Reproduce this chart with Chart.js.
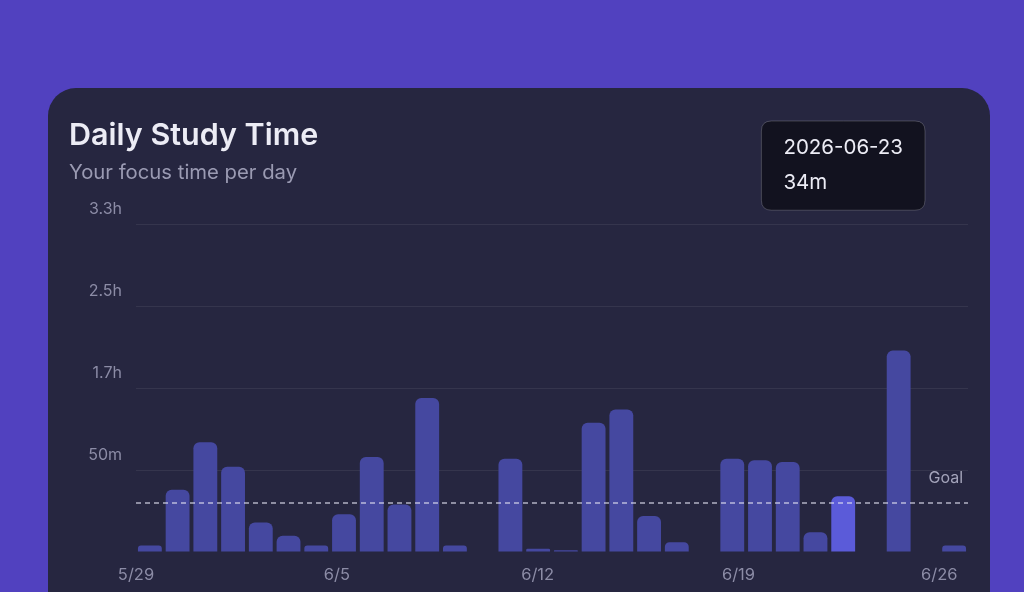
<!DOCTYPE html>
<html>
<head>
<meta charset="utf-8">
<script src="https://cdn.jsdelivr.net/npm/chart.js@4.4.1/dist/chart.umd.min.js"></script>
<style>
  html, body { margin: 0; padding: 0; }
  body {
    width: 1024px;
    height: 592px;
    overflow: hidden;
    background: #5141bf;
    font-family: Inter, "Noto Sans", sans-serif;
    position: relative;
  }
  .card {
    position: absolute;
    left: 48px;
    top: 88px;
    width: 942px;
    height: 540px;
    border-radius: 28px;
    background: #262640;
  }
  #study-chart { position: absolute; left: 0; top: 0; }
</style>
</head>
<body>
<div class="card">
  <canvas id="study-chart" width="942" height="504"></canvas>
</div>
<script>
const days = [
  "2026-05-29", "2026-05-30", "2026-05-31", "2026-06-01", "2026-06-02",
  "2026-06-03", "2026-06-04", "2026-06-05", "2026-06-06", "2026-06-07",
  "2026-06-08", "2026-06-09", "2026-06-10", "2026-06-11", "2026-06-12",
  "2026-06-13", "2026-06-14", "2026-06-15", "2026-06-16", "2026-06-17",
  "2026-06-18", "2026-06-19", "2026-06-20", "2026-06-21", "2026-06-22",
  "2026-06-23", "2026-06-24", "2026-06-25", "2026-06-26", "2026-06-27"
];
// minutes studied per day
const minutes = [
  4, 38, 67, 52, 18,
  10, 4, 23, 58, 29,
  94, 4, 0, 57, 2,
  1, 79, 87, 22, 6,
  0, 57, 56, 55, 12,
  34, 0, 123, 0, 4
];
const tickLabels = ["5/29", "6/5", "6/12", "6/19", "6/26"];
const goalMinutes = 30;
const yMax = 200;
const yStep = 50;
const activeDay = "2026-06-23";

const shortDate = (iso) => {
  const [, m, d] = iso.split("-");
  return `${parseInt(m)}/${parseInt(d)}`;
};

const fmtMinutes = (v) => {
  if (v === 0) return "";
  if (v < 60) return `${v}m`;
  return `${(v / 60).toFixed(1)}h`;
};

// tooltip sits above the plot, centred on the active bar
Chart.Tooltip.positioners.topFixed = function (elements) {
  if (!elements.length) return false;
  return { x: elements[0].element.x, y: 33 };
};

const goalLine = {
  id: "goalLine",
  afterDatasetsDraw(chart) {
    const { ctx, chartArea, scales } = chart;
    const y = scales.y.getPixelForValue(goalMinutes);
    ctx.save();
    ctx.strokeStyle = "rgba(225,225,240,0.75)";
    ctx.lineWidth = 1.5;
    ctx.setLineDash([5, 4]);
    ctx.beginPath();
    ctx.moveTo(chartArea.left, y);
    ctx.lineTo(chartArea.right, y);
    ctx.stroke();
    ctx.setLineDash([]);
    ctx.fillStyle = "#a3a3ba";
    ctx.font = "16px Inter";
    ctx.textAlign = "right";
    ctx.textBaseline = "middle";
    ctx.fillText("Goal", chartArea.right - 5, y - 25);
    ctx.restore();
  }
};

const chart = new Chart(document.getElementById("study-chart"), {
  type: "bar",
  data: {
    labels: days,
    datasets: [{
      data: minutes,
      backgroundColor: "#4548a0",
      hoverBackgroundColor: "#5b5bd9",
      borderRadius: 6,
      borderSkipped: "bottom",
      categoryPercentage: 1,
      barPercentage: 0.86
    }]
  },
  options: {
    responsive: false,
    animation: false,
    events: [],
    layout: { padding: { top: 22, left: 21, right: 22, bottom: 0 } },
    plugins: {
      legend: { display: false },
      title: {
        display: true,
        text: "Daily Study Time",
        align: "start",
        color: "#ececf5",
        font: { family: "Inter", size: 30.5, weight: "600" },
        padding: { top: 8, bottom: 4 }
      },
      subtitle: {
        display: true,
        text: "Your focus time per day",
        align: "start",
        color: "#9a9ab2",
        font: { family: "Inter", size: 20.3 },
        padding: { top: 2, bottom: 39.6 }
      },
      tooltip: {
        position: "topFixed",
        xAlign: "center",
        yAlign: "top",
        caretSize: 0,
        caretPadding: 0,
        backgroundColor: "#12121f",
        borderColor: "rgba(255,255,255,0.2)",
        borderWidth: 1,
        cornerRadius: 10,
        padding: { x: 22, y: 15 },
        displayColors: false,
        titleColor: "#ececf5",
        bodyColor: "#ececf5",
        titleFont: { family: "Inter", size: 20.5, weight: "normal" },
        bodyFont: { family: "Inter", size: 20.5 },
        titleMarginBottom: 10,
        callbacks: {
          title: (items) => items[0].label,
          label: (item) => `${item.raw}m`
        }
      }
    },
    scales: {
      // bars are placed on this axis
      x: {
        display: false
      },
      // date labels run edge to edge, without the bar offset
      xDates: {
        type: "category",
        position: "bottom",
        labels: days,
        offset: false,
        grid: { display: false },
        border: { display: false },
        afterFit: (s) => { s.height = 40; },
        ticks: {
          autoSkip: false,
          maxRotation: 0,
          padding: 5,
          color: "#8c8ca6",
          font: { family: "Inter", size: 16.5 },
          callback: function (value) {
            const lbl = shortDate(this.getLabelForValue(value));
            return tickLabels.includes(lbl) ? lbl : "";
          }
        }
      },
      y: {
        min: 0,
        max: yMax,
        border: { display: false },
        afterFit: (s) => { s.width = 67; },
        grid: {
          drawTicks: false,
          color: (c) => c.tick && c.tick.value === 0 ? "rgba(0,0,0,0)" : "rgba(255,255,255,0.07)"
        },
        ticks: {
          stepSize: yStep,
          padding: 14,
          labelOffset: -15,
          color: "#8c8ca6",
          font: { family: "Inter", size: 16 },
          callback: (v) => fmtMinutes(v)
        }
      }
    }
  },
  plugins: [goalLine]
});

const idx = days.indexOf(activeDay);
chart.setActiveElements([{ datasetIndex: 0, index: idx }]);
chart.tooltip.setActiveElements([{ datasetIndex: 0, index: idx }], { x: 0, y: 0 });
chart.update();
</script>
</body>
</html>
